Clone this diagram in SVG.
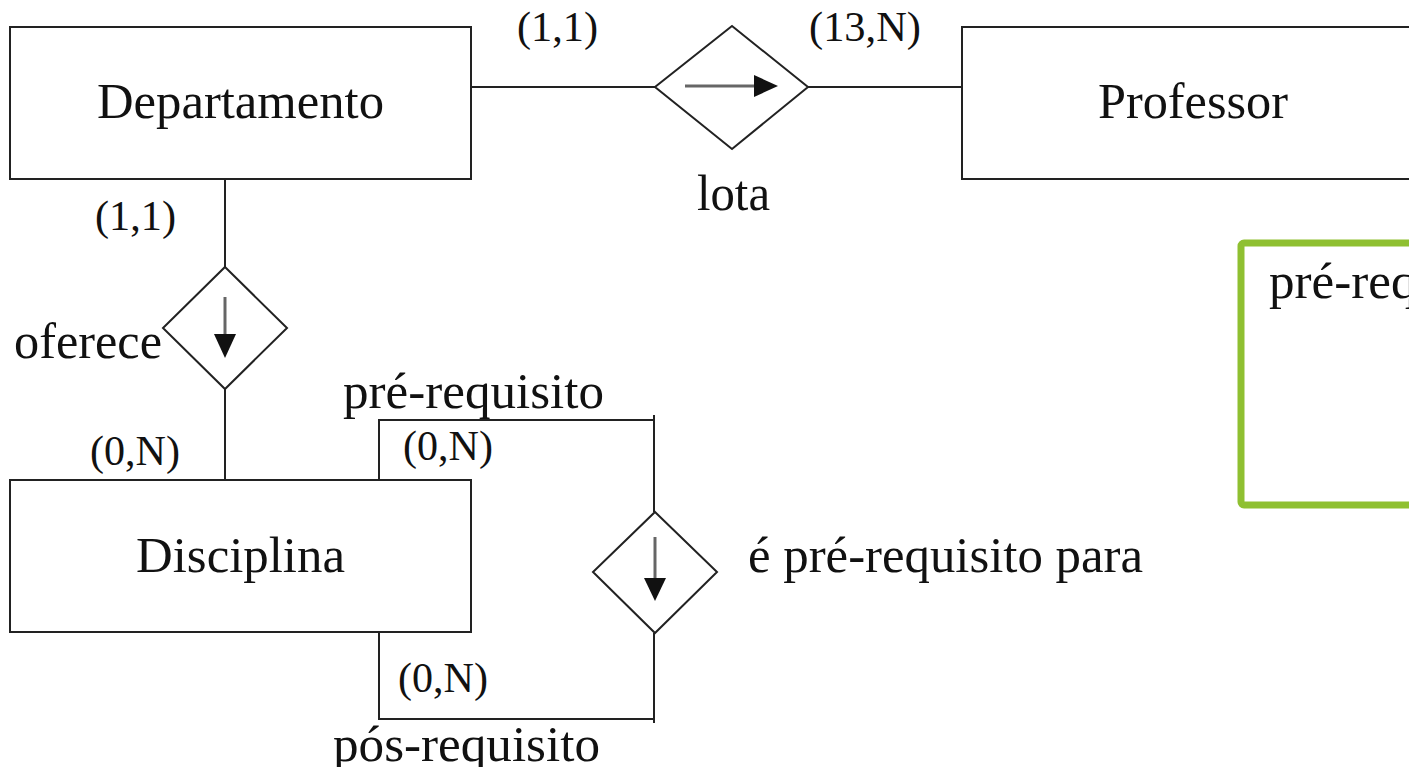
<svg xmlns="http://www.w3.org/2000/svg" width="1409" height="767" viewBox="0 0 1409 767">
<style>
.box{fill:#fff;stroke:#222;stroke-width:2}
.dia{fill:#fff;stroke:#222;stroke-width:2}
.ln{fill:none;stroke:#222;stroke-width:2}
.t{font-family:"Liberation Serif","Times New Roman",serif;font-size:50px;fill:#111}
.c{font-family:"Liberation Serif","Times New Roman",serif;font-size:42px;fill:#111}
.ar{stroke:#666;stroke-width:3;fill:none}
.ah{fill:#111}
</style>
<rect width="1409" height="767" fill="#fff"/>
<g id="connectors">
<line class="ln" x1="471" y1="87" x2="655" y2="87"/>
<line class="ln" x1="808" y1="87" x2="962" y2="87"/>
<line class="ln" x1="225" y1="179" x2="225" y2="267"/>
<line class="ln" x1="225" y1="389" x2="225" y2="486"/>
<polyline class="ln" points="379,481 379,420 654,420"/>
<line class="ln" x1="654" y1="415" x2="654" y2="512"/>
<polyline class="ln" points="379,629 379,719 654,719"/>
<line class="ln" x1="654" y1="633" x2="654" y2="723"/>
</g>
<g id="departamento">
<rect class="box" x="10" y="27" width="461" height="152"/>
<text class="t" x="97" y="118" textLength="287" lengthAdjust="spacingAndGlyphs">Departamento</text>
</g>
<g id="professor">
<rect class="box" x="962" y="27" width="480" height="152"/>
<text class="t" x="1098" y="118" textLength="190" lengthAdjust="spacingAndGlyphs">Professor</text>
</g>
<g id="disciplina">
<rect class="box" x="10" y="480" width="461" height="152"/>
<text class="t" x="136" y="572" textLength="209" lengthAdjust="spacingAndGlyphs">Disciplina</text>
</g>
<g id="lota">
<polygon class="dia" points="732,26 808,87 732,149 655,87"/>
<line class="ar" x1="685" y1="86" x2="756" y2="86"/>
<polygon class="ah" points="754,75 778,86 754,97"/>
<text class="t" x="697" y="210" textLength="73" lengthAdjust="spacingAndGlyphs">lota</text>
</g>
<g id="oferece">
<polygon class="dia" points="225,267 287,328 225,389 163,328"/>
<line class="ar" x1="225" y1="297" x2="225" y2="336"/>
<polygon class="ah" points="214,334 236,334 225,358"/>
<text class="t" x="14" y="358" textLength="148" lengthAdjust="spacingAndGlyphs">oferece</text>
</g>
<g id="prerequisito-rel">
<polygon class="dia" points="655,512 717,572 655,633 593,572"/>
<line class="ar" x1="655" y1="537" x2="655" y2="580"/>
<polygon class="ah" points="644,578 666,578 655,601"/>
<text class="t" x="748" y="572" textLength="395" lengthAdjust="spacingAndGlyphs">é pré-requisito para</text>
</g>
<g id="labels">
<text class="c" x="517" y="41" textLength="81" lengthAdjust="spacingAndGlyphs">(1,1)</text>
<text class="c" x="809" y="41" textLength="112" lengthAdjust="spacingAndGlyphs">(13,N)</text>
<text class="c" x="95" y="230" textLength="81" lengthAdjust="spacingAndGlyphs">(1,1)</text>
<text class="c" x="90" y="465" textLength="90" lengthAdjust="spacingAndGlyphs">(0,N)</text>
<text class="c" x="403" y="460" textLength="90" lengthAdjust="spacingAndGlyphs">(0,N)</text>
<text class="c" x="398" y="692" textLength="90" lengthAdjust="spacingAndGlyphs">(0,N)</text>
<text class="t" x="343" y="408" textLength="261" lengthAdjust="spacingAndGlyphs">pré-requisito</text>
<text class="t" x="333" y="761" textLength="267" lengthAdjust="spacingAndGlyphs">pós-requisito</text>
</g>
<g id="note">
<rect x="1241" y="243" width="200" height="262" rx="3" fill="#fff" stroke="#8FC031" stroke-width="7"/>
<text class="t" x="1269" y="298" textLength="261" lengthAdjust="spacingAndGlyphs">pré-requisito</text>
</g>
</svg>
